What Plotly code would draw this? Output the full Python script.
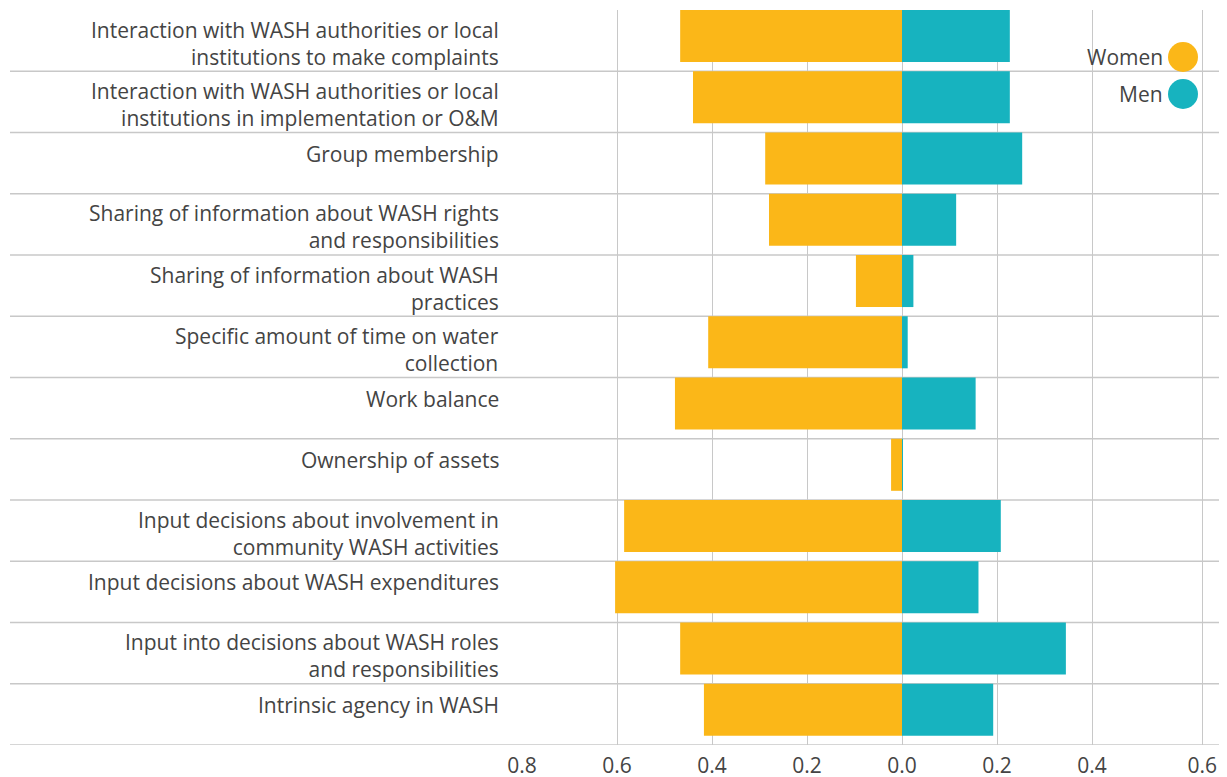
import plotly.graph_objects as go

categories = [
    ["Interaction with WASH authorities or local", "institutions to make complaints"],
    ["Interaction with WASH authorities or local", "institutions in implementation or O&M"],
    ["Group membership"],
    ["Sharing of information about WASH rights", "and responsibilities"],
    ["Sharing of information about WASH", "practices"],
    ["Specific amount of time on water", "collection"],
    ["Work balance"],
    ["Ownership of assets"],
    ["Input decisions about involvement in", "community WASH activities"],
    ["Input decisions about WASH expenditures"],
    ["Input into decisions about WASH roles", "and responsibilities"],
    ["Intrinsic agency in WASH"],
]
women = [0.467, 0.44, 0.288, 0.28, 0.097, 0.408, 0.478, 0.023, 0.585, 0.604, 0.467, 0.417]
men = [0.227, 0.227, 0.253, 0.114, 0.024, 0.012, 0.155, 0.001, 0.208, 0.161, 0.345, 0.192]

tick_vals = [-0.8, -0.6, -0.4, -0.2, 0.0, 0.2, 0.4, 0.632]
tick_text = ["0.8", "0.6", "0.4", "0.2", "0.0", "0.2", "0.4", "0.6"]

ORANGE = "#FBB718"
TEAL = "#17B3BF"
TEXT = "#444444"
GRID = "#C8C8C8"
FONT = "Open Sans"
FS = 21

n = len(categories)
ys = list(range(n))

fig = go.Figure()
fig.add_trace(go.Bar(
    y=ys, x=[-w for w in women], orientation="h",
    marker=dict(color=ORANGE, line=dict(width=0)),
    width=0.85, offset=-0.5, name="Women", showlegend=False, hoverinfo="skip",
))
fig.add_trace(go.Bar(
    y=ys, x=men, orientation="h",
    marker=dict(color=TEAL, line=dict(width=0)),
    width=0.85, offset=-0.5, name="Men", showlegend=False, hoverinfo="skip",
))

# page coordinates (body has an 8px margin)
OFF = 8
W, H = 1227, 777
PL, PR, PT, PB = 522, 1227, 10, 745  # plot area in page pixels
L = PL - OFF
T = PT - OFF
R = W - (PR - OFF)
B = H - (PB - OFF)
pw = PR - PL
ph = PB - PT
px_per_unit = 475.0
xmin = -0.8
xmax = xmin + pw / px_per_unit

shapes = []
x_left_paper = (10 - PL) / pw
for i in range(n):
    shapes.append(dict(type="line", xref="paper", yref="y", x0=x_left_paper, x1=1,
                       y0=i + 0.5, y1=i + 0.5, line=dict(color=GRID, width=1.3), layer="below"))

annotations = []
label_x = (501 - PL) / pw
for i, lines in enumerate(categories):
    shift = -21 if len(lines) == 1 else -33
    annotations.append(dict(
        xref="paper", yref="y", x=label_x, y=i - 0.5, xanchor="right", yanchor="middle",
        yshift=shift, text="<br>".join(lines), showarrow=False, align="right",
        font=dict(family=FONT, size=FS, color=TEXT),
    ))

# legend
leg_x = (1183 - PL) / pw
for name, color, ypx in [("Women", ORANGE, 57), ("Men", TEAL, 94)]:
    yp = 1 - (ypx - PT) / ph
    shapes.append(dict(type="circle", xref="paper", yref="paper", xsizemode="pixel", ysizemode="pixel",
                       xanchor=leg_x, yanchor=yp, x0=-15, x1=15, y0=-15, y1=15,
                       fillcolor=color, line=dict(width=0), layer="above"))
    annotations.append(dict(
        xref="paper", yref="paper", x=(1165 - PL) / pw, y=yp, xanchor="right", yanchor="middle",
        text=name, showarrow=False, font=dict(family=FONT, size=FS, color=TEXT),
    ))

fig.update_layout(
    width=W, height=H,
    margin=dict(l=L, r=R, t=T, b=B, pad=0),
    plot_bgcolor="white", paper_bgcolor="white",
    barmode="overlay",
    showlegend=False,
    font=dict(family=FONT, size=FS, color=TEXT),
    xaxis=dict(range=[xmin, xmax], tickvals=tick_vals, ticktext=tick_text,
               showgrid=True, gridcolor=GRID, gridwidth=1.3, zeroline=False,
               showline=False, ticks="", ticklabelstandoff=6,
               tickfont=dict(family=FONT, size=FS, color=TEXT),
               fixedrange=True),
    yaxis=dict(range=[n - 0.5, -0.5], showgrid=False, zeroline=False, showticklabels=False,
               ticks="", fixedrange=True),
    shapes=shapes,
    annotations=annotations,
)

fig.write_html("out.html")
